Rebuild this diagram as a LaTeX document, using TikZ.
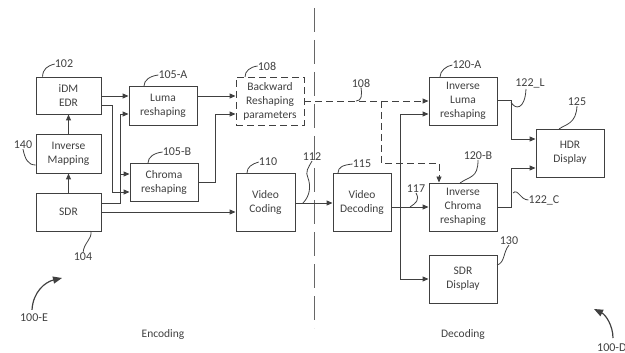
\documentclass[tikz,border=0pt]{standalone}
\usepackage{fontspec}
\setmainfont{Carlito}
\usetikzlibrary{arrows.meta}
\definecolor{ink}{HTML}{404040}
\begin{document}
\begin{tikzpicture}[x=1pt,y=-1pt,
  box/.style={draw=ink,line width=0.9pt,inner sep=0pt,align=center,text=ink,
    font=\fontsize{11.5}{14}\selectfont},
  dbox/.style={box,dash pattern=on 7pt off 4pt},
  arr/.style={draw=ink,line width=0.9pt,-{Triangle[length=6pt,width=5pt]}},
  darr/.style={arr,dash pattern=on 7pt off 4pt},
  lead/.style={draw=ink,line width=0.8pt},
  lbl/.style={text=ink,inner sep=0pt,font=\fontsize{12}{14}\selectfont},
  sep/.style={draw=ink!80,line width=0.9pt,dash pattern=on 24pt off 8pt}]
\useasboundingbox (0,0) rectangle (625,353);

% boxes
\node[box,minimum width=65pt,minimum height=37pt] (edr) at (68.5,95.5) {iDM\\EDR};
\node[box,minimum width=65pt,minimum height=39pt] (invmap) at (68.5,153.5) {Inverse\\Mapping};
\node[box,minimum width=65pt,minimum height=38pt] (sdr) at (68.5,212) {SDR};
\node[box,minimum width=68pt,minimum height=39pt] (luma) at (163,105.5) {Luma\\reshaping};
\node[box,minimum width=68pt,minimum height=38pt] (chroma) at (164,182) {Chroma\\reshaping};
\node[dbox,minimum width=68pt,minimum height=48pt] (brp) at (270,101) {Backward\\Reshaping\\parameters};
\node[box,minimum width=59pt,minimum height=58pt] (vcod) at (265.5,202) {Video\\Coding};
\node[box,minimum width=58pt,minimum height=58pt] (vdec) at (362,202) {Video\\Decoding};
\node[box,minimum width=68pt,minimum height=48pt] (iluma) at (463,101) {Inverse\\Luma\\reshaping};
\node[box,minimum width=68pt,minimum height=48pt] (ichroma) at (463,207) {Inverse\\Chroma\\reshaping};
\node[box,minimum width=68pt,minimum height=48pt] (sdrd) at (463,279) {SDR\\Display};
\node[box,minimum width=68pt,minimum height=48pt] (hdr) at (570,153) {HDR\\Display};

% separator
\coordinate (septop) at (314,8);
\coordinate (sepbot) at (314,328);
\draw[sep] (septop) -- (sepbot);

% encoder connectors
\draw[arr] (sdr.north) -- (invmap.south);
\draw[arr] (invmap.north) -- (edr.south);
\draw[arr] (edr.east |- 0,96) -- (luma.west |- 0,96);
\draw[arr] (edr.east |- 0,105.5) -- (112,105.5) -- (112,192) -- (chroma.west |- 0,192);
\draw[arr] (sdr.east |- 0,203) -- (120,203) -- (120,114) -- (luma.west |- 0,114);
\coordinate (j1) at (120,174);
\draw[arr] (j1) -- (chroma.west |- j1);
\draw[arr] (sdr.east) -- (vcod.west |- sdr.east);
\draw[arr] (luma.east |- 0,96) -- (brp.west |- 0,96);
\draw[arr] (chroma.east |- 0,182) -- (215,182) -- (215,114) -- (brp.west |- 0,114);
\draw[arr] (vcod.east |- 0,203) -- (vdec.west |- 0,203);

% decoder connectors
\draw[darr] (brp.east |- 0,101) -- (iluma.west |- 0,101);
\coordinate (j2) at (381,101);
\draw[darr] (j2) -- (381,163) -- (439,163) -- (ichroma.north -| 439,0);
\draw[arr] (vdec.east |- 0,207) -- (ichroma.west);
\coordinate (j3) at (400,207);
\draw[arr] (j3) -- (400,114) -- (iluma.west |- 0,114);
\draw[arr] (j3) -- (400,279) -- (sdrd.west);
\draw[arr] (iluma.east |- 0,100) -- (511,100) -- (511,139) -- (hdr.west |- 0,139);
\draw[arr] (ichroma.east) -- (511,207) -- (511,168) -- (hdr.west |- 0,168);

% labels
\node[lbl] (l102) at (64,64) {102};
\draw[lead] (edr.north west) ++(7,0) .. controls (43,69) and (47,66) .. (l102.west);
\node[lbl] (l140) at (23,145) {140};
\draw[lead] (invmap.west |- 0,165) .. controls (28,165) and (25,159) .. (l140.south);
\node[lbl] (l104) at (83,257) {104};
\draw[lead] (91,231) .. controls (92,240) and (84,242) .. (l104.north);
\node[lbl] (l105a) at (173,75) {105-A};
\draw[lead] (144,86) .. controls (144,80) and (150,76) .. (l105a.west);
\node[lbl] (l105b) at (177,152) {105-B};
\draw[lead] (148,163) .. controls (148,157) and (154,153) .. (l105b.west);
\node[lbl] (l108a) at (267,66) {108};
\draw[lead] (245,77) .. controls (245,71) and (250,67) .. (l108a.west);
\node[lbl] (l110) at (268,162) {110};
\draw[lead] (247,173) .. controls (247,167) and (252,164) .. (l110.west);
\node[lbl] (l112) at (312,157) {112};
\draw[lead] (303,203) .. controls (310,196) and (311,186) .. (308,178) .. controls (305,172) and (308,168) .. (l112.south);
\node[lbl] (l115) at (362,164) {115};
\draw[lead] (338,173) .. controls (338,167) and (343,165) .. (l115.west);
\node[lbl] (l108b) at (361,83) {108};
\draw[lead] (356,101) .. controls (362,101) and (362,95) .. (l108b.south);
\node[lbl] (l120a) at (467,65) {120-A};
\draw[lead] (440,77) .. controls (440,71) and (446,66) .. (l120a.west);
\node[lbl] (l122l) at (530,83) {122\_L};
\draw[lead] (511,102) .. controls (515,110) and (525,110) .. (526,89);
\node[lbl] (l125) at (577,102) {125};
\draw[lead] (559,129) .. controls (566,124) and (576,124) .. (l125.south);
\node[lbl] (l120b) at (478,156) {120-B};
\draw[lead] (460,183) .. controls (470,176) and (478,178) .. (l120b.south);
\node[lbl] (l117) at (416,189) {117};
\draw[lead] (410,207) .. controls (416,203) and (420,200) .. (l117.south);
\node[lbl] (l122c) at (544,200) {122\_C};
\draw[lead] (513,193) .. controls (518,188) and (520,200) .. (l122c.west);
\node[lbl] (l130) at (509,241) {130};
\draw[lead] (497,265) .. controls (505,263) and (503,252) .. (l130.south);

% section titles
\node[lbl,font=\fontsize{11.5}{14}\selectfont] (enc) at (163,334) {Encoding};
\node[lbl,font=\fontsize{11.5}{14}\selectfont] (dec) at (463,334) {Decoding};

% figure references
\node[lbl] (l100e) at (34,318) {100-E};
\coordinate (ae) at (62,278);
\draw[draw=ink,line width=1.2pt,-{Triangle[length=9pt,width=7pt]}] (l100e.north) ++(-2,-4) .. controls (33,292) and (45,282) .. (ae);
\node[lbl,anchor=west] (l100d) at (597,348) {100-D};
\coordinate (ad) at (594,309);
\draw[draw=ink,line width=1.2pt,-{Triangle[length=9pt,width=7pt]}] (613,338) .. controls (613,326) and (606,315) .. (ad);
\end{tikzpicture}
\end{document}
